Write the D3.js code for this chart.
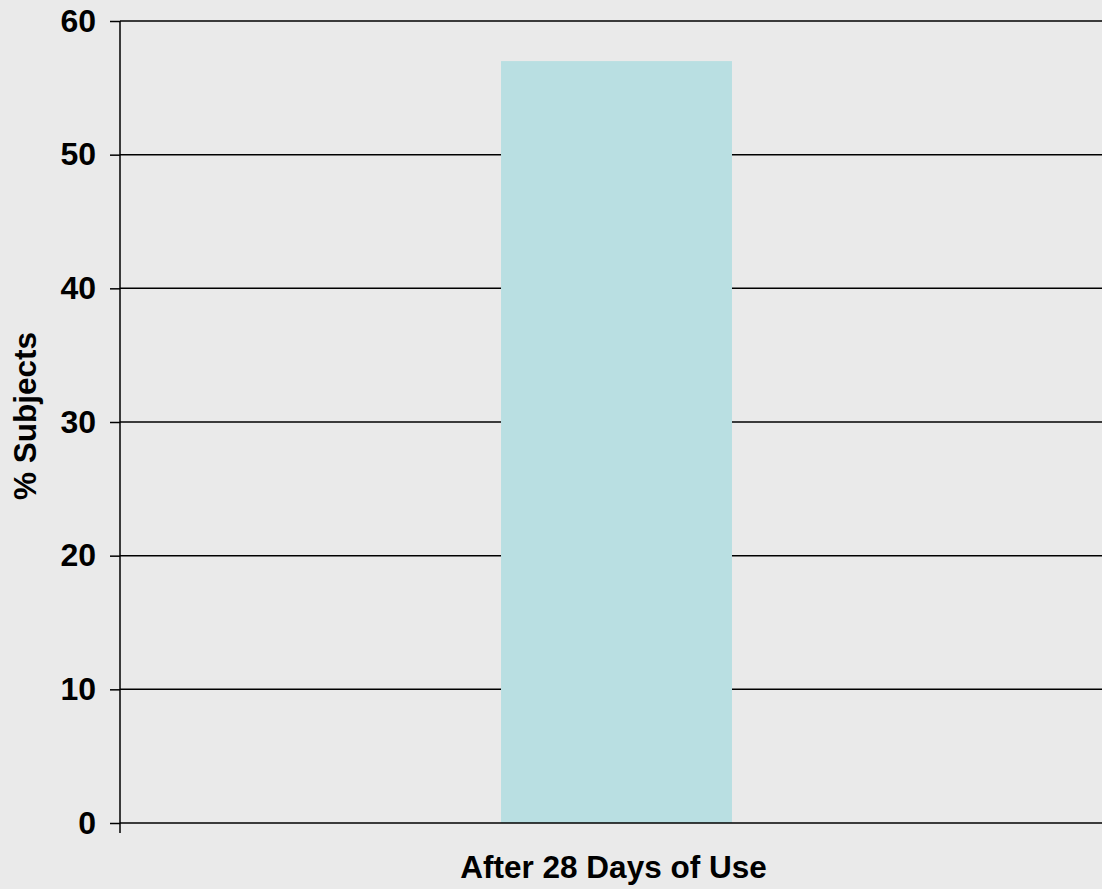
<!DOCTYPE html>
<html>
<head>
<meta charset="utf-8">
<script src="https://cdn.jsdelivr.net/npm/d3@7"></script>
<style>
  html, body { margin: 0; padding: 0; background: #eaeaea; overflow: hidden; }
  svg { display: block; }
  text { font-family: "Liberation Sans", Arial, sans-serif; font-weight: bold; fill: #000; }
</style>
</head>
<body>
<svg id="chart" width="1102" height="889"></svg>
<script>
const categories = ["After 28 Days of Use"];
const values = [57];
const yTicks = [0, 10, 20, 30, 40, 50, 60];
const yLabel = "% Subjects";

const svg = d3.select("#chart");
const margin = { left: 120, top: 21, right: 1113, bottom: 823 };

svg.append("rect").attr("width", 1102).attr("height", 889).attr("fill", "#eaeaea");

const x = d3.scaleBand().domain(categories).range([margin.left, margin.right]).padding(0.6226);
const y = d3.scaleLinear().domain([0, 60]).range([margin.bottom, margin.top]);

// gridlines
svg.append("g").selectAll("line").data(yTicks.filter(d => d > 0)).join("line")
  .attr("x1", margin.left).attr("x2", margin.right)
  .attr("y1", d => y(d)).attr("y2", d => y(d))
  .attr("stroke", "#000").attr("stroke-width", 1.5);

// bars
svg.append("g").selectAll("rect").data(values).join("rect")
  .attr("x", (d, i) => x(categories[i]))
  .attr("width", x.bandwidth())
  .attr("y", d => y(d))
  .attr("height", d => y(0) - y(d))
  .attr("fill", "#b9dfe2");

// y axis
const yAxis = d3.axisLeft(y).tickValues(yTicks).tickSize(10).tickPadding(14);
const gy = svg.append("g").attr("transform", `translate(${margin.left},0)`).call(yAxis);
gy.select(".domain").remove();
gy.selectAll(".tick line").attr("stroke", "#000").attr("stroke-width", 1.5);
gy.selectAll(".tick text").style("font-size", "32px").style("font-family", "Liberation Sans, Arial, sans-serif").style("font-weight", "bold").attr("fill", "#000");

// vertical axis line (extends below zero as category tick)
svg.append("line").attr("x1", margin.left).attr("x2", margin.left)
  .attr("y1", y(60)).attr("y2", y(0) + 10)
  .attr("stroke", "#000").attr("stroke-width", 1.5);

// x baseline
svg.append("line").attr("x1", margin.left).attr("x2", margin.right)
  .attr("y1", y(0)).attr("y2", y(0))
  .attr("stroke", "#000").attr("stroke-width", 1.5);

// x axis label
svg.append("text")
  .attr("x", x(categories[0]) + x.bandwidth() / 2 - 3)
  .attr("y", 878)
  .attr("text-anchor", "middle")
  .style("font-size", "31.5px")
  .text(categories[0]);

// y label
svg.append("text")
  .attr("transform", `translate(36,416) rotate(-90)`)
  .attr("text-anchor", "middle")
  .style("font-size", "31.5px")
  .text(yLabel);
</script>
</body>
</html>
